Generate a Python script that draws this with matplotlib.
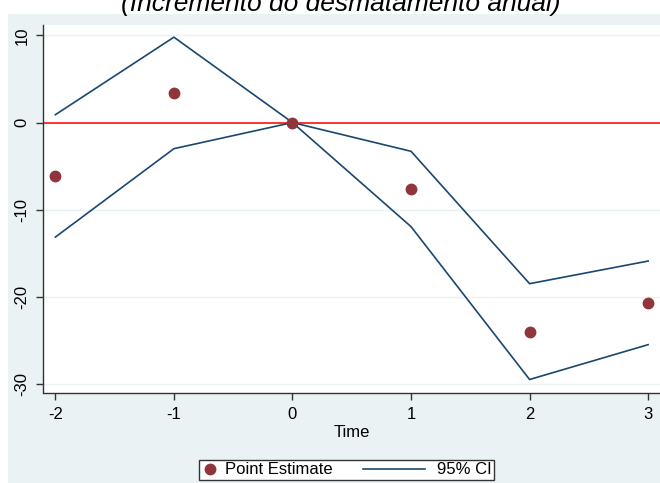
import matplotlib
matplotlib.use("Agg")
import matplotlib.pyplot as plt
from matplotlib.patches import Rectangle
from matplotlib.lines import Line2D
from matplotlib.legend_handler import HandlerBase

time = [-2, -1, 0, 1, 2, 3]
point_estimate = [-6.1, 3.45, 0.0, -7.6, -24.0, -20.7]
ci_upper = [0.9, 9.8, 0.0, -3.3, -18.5, -15.9]
ci_lower = [-13.15, -3.0, 0.0, -11.95, -29.5, -25.5]
yticks = [10, 0, -10, -20, -30]
xticks = [-2, -1, 0, 1, 2, 3]
title = "(Incremento do desmatamento anual)"

plt.rcParams['font.family'] = ['Liberation Sans', 'DejaVu Sans']

W, H = 660, 483
fig = plt.figure(figsize=(W / 100, H / 100), dpi=100, facecolor="white")

bg = "#EAF2F3"
fig.patches.append(Rectangle((7.5 / W, 0), 1 - 7.5 / W, (H - 14) / H,
                             transform=fig.transFigure, facecolor=bg,
                             edgecolor="none", zorder=-5))

fig.text(341 / W, (H - 11) / H, title, ha="center", va="baseline",
         fontsize=19, style="italic", color="black")

ax = fig.add_axes([43.5 / W, (H - 393) / H, (W - 43.5) / W, (393 - 25) / H])
ax.set_facecolor("white")

navy = "#1A476F"
maroon = "#90353B"

ax.axhline(0, color="#FF0000", linewidth=1.1, zorder=2)
ax.plot(time, ci_upper, color=navy, linewidth=1.2, zorder=3)
ci_line, = ax.plot(time, ci_lower, color=navy, linewidth=1.2, zorder=3)
pe_line, = ax.plot(time, point_estimate, linestyle="none", marker="o",
                   markersize=7.5, color=maroon, zorder=4)

ax.set_xlim(-2.1, 3.1)
ax.set_ylim(-31.05, 11.2)
ax.set_yticks(yticks)
ax.set_xticks(xticks)
ax.set_yticklabels([str(v) for v in yticks], rotation=90, va="center", fontsize=12)
ax.set_xticklabels([str(v) for v in xticks], fontsize=12)
ax.grid(axis="y", color=bg, linewidth=1.0)
ax.set_axisbelow(True)

for s in ["top", "right"]:
    ax.spines[s].set_visible(False)
for s in ["left", "bottom"]:
    ax.spines[s].set_color("#333333")
    ax.spines[s].set_linewidth(1.0)
ax.tick_params(axis="both", length=5, width=1.0, color="#333333", pad=5)

ax.set_xlabel("Time", fontsize=12, labelpad=2)


class LongLine(HandlerBase):
    def create_artists(self, legend, orig_handle, xdescent, ydescent,
                       width, height, fontsize, trans):
        y = height / 2 - ydescent
        line = Line2D([-xdescent - 37, -xdescent + 8.3], [y, y],
                      color=navy, linewidth=1.2)
        line.set_transform(trans)
        return [line]


leg = fig.legend([pe_line, ci_line], ["Point Estimate", "95% CI"],
                 loc="center left", bbox_to_anchor=(199 / W, (H - 470) / H),
                 ncol=2, frameon=True, fancybox=False, fontsize=12,
                 edgecolor="#333333", handlelength=1.0, columnspacing=4.9,
                 borderpad=0.15, handletextpad=0.39, borderaxespad=0,
                 framealpha=1, handler_map={ci_line: LongLine()})
leg.get_frame().set_linewidth(1.0)
leg.get_frame().set_facecolor("white")

fig.savefig("out.png", dpi=100, facecolor="white")
